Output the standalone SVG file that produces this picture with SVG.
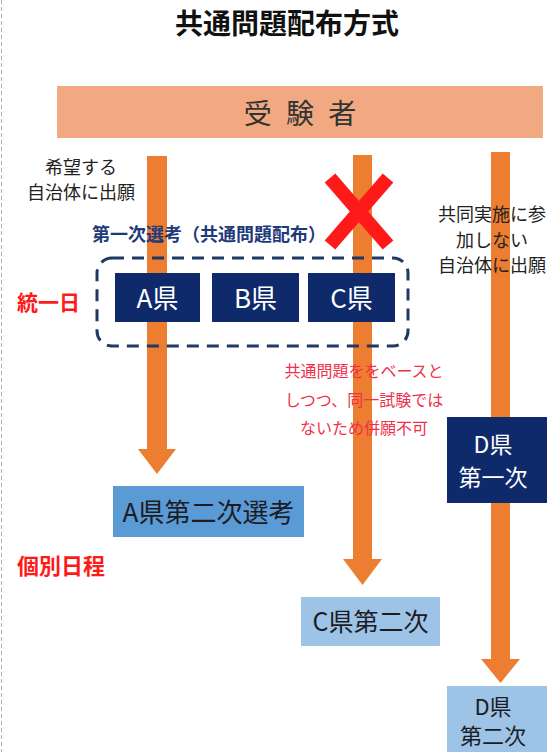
<svg xmlns="http://www.w3.org/2000/svg" width="547" height="752" viewBox="0 0 547 752">
<style>
text{font-family:"Noto Sans CJK JP","Noto Sans",sans-serif;}
.arrow{fill:#ED7D31;}
.navy{fill:#0F2A6B;}
.wt{fill:#ffffff;text-anchor:middle;}
.dk{fill:#1c1c24;text-anchor:middle;}
.lbl{fill:#222;text-anchor:middle;font-size:18px;}
.red{fill:#FF1A1A;font-weight:bold;}
.note{fill:#F0304A;text-anchor:middle;font-size:16px;}
</style>
<rect width="547" height="752" fill="#ffffff"/>
<line x1="1.5" y1="0" x2="1.5" y2="752" stroke="#b0b0b0" stroke-width="1" stroke-dasharray="4 3"/>
<g id="title"><text x="287" y="34" font-size="28" font-weight="bold" text-anchor="middle" fill="#111">共通問題配布方式</text></g>
<g id="examinee">
<rect x="57" y="86" width="486" height="52" fill="#F2A982"/>
<text x="302" y="124" font-size="28" letter-spacing="4" text-anchor="middle" fill="#333">受 験 者</text>
</g>
<g id="connectors">
<path class="arrow" d="M147,156 H167 V449 H176 L157,474 L138,449 H147 Z"/>
<path class="arrow" d="M353,155 H372 V559 H382 L362.5,585 L343,559 H353 Z"/>
<path class="arrow" d="M491,152 H510 V659 H520 L500.5,683 L481,659 H491 Z"/>
</g>
<g id="label-apply"><text class="lbl" x="81" y="174">希望する</text><text class="lbl" x="81" y="199">自治体に出願</text></g>
<g id="label-first"><text x="92" y="241" font-size="18" font-weight="bold" fill="#1F3A7A">第一次選考（共通問題配布）</text></g>
<g id="label-nonjoin"><text class="lbl" x="492" y="221">共同実施に参</text><text class="lbl" x="492" y="247">加しない</text><text class="lbl" x="492" y="272">自治体に出願</text></g>
<g id="label-same-day"><text class="red" x="17" y="310" font-size="21">統一日</text></g>
<g id="group-first">
<rect x="97" y="258" width="311" height="88" rx="15" fill="none" stroke="#1F3864" stroke-width="3" stroke-dasharray="12 8"/>
</g>
<g id="pref-a"><rect class="navy" x="115" y="273" width="85" height="49"/><text class="wt" x="157.5" y="308" font-size="26">A県</text></g>
<g id="pref-b"><rect class="navy" x="212" y="273" width="87" height="49"/><text class="wt" x="255.5" y="308" font-size="26">B県</text></g>
<g id="pref-c"><rect class="navy" x="308" y="273" width="87" height="49"/><text class="wt" x="351.5" y="308" font-size="26">C県</text></g>
<g id="cross">
<line x1="330" y1="178" x2="388" y2="245" stroke="#FF1A1A" stroke-width="14"/>
<line x1="388" y1="178" x2="330" y2="245" stroke="#FF1A1A" stroke-width="14"/>
</g>
<g id="note"><text class="note" x="364" y="377">共通問題ををベースと</text><text class="note" x="364" y="406">しつつ、同一試験では</text><text class="note" x="364" y="434">ないため併願不可</text></g>
<g id="pref-d-first"><rect class="navy" x="447" y="417" width="100" height="86"/><text class="wt" x="493" y="453" font-size="23">D県</text><text class="wt" x="493" y="486" font-size="23">第一次</text></g>
<g id="pref-a-second"><rect x="113" y="486" width="191" height="51" fill="#5B9BD5"/><text class="dk" x="208.5" y="522" font-size="26">A県第二次選考</text></g>
<g id="label-separate"><text class="red" x="17" y="574" font-size="22">個別日程</text></g>
<g id="pref-c-second"><rect x="301" y="597" width="139" height="49" fill="#9DC3E6"/><text class="dk" x="370.5" y="631" font-size="25">C県第二次</text></g>
<g id="pref-d-second"><rect x="447" y="686" width="100" height="66" fill="#9DC3E6"/><text class="dk" x="493" y="715" font-size="22">D県</text><text class="dk" x="493" y="744" font-size="22">第二次</text></g>
</svg>
